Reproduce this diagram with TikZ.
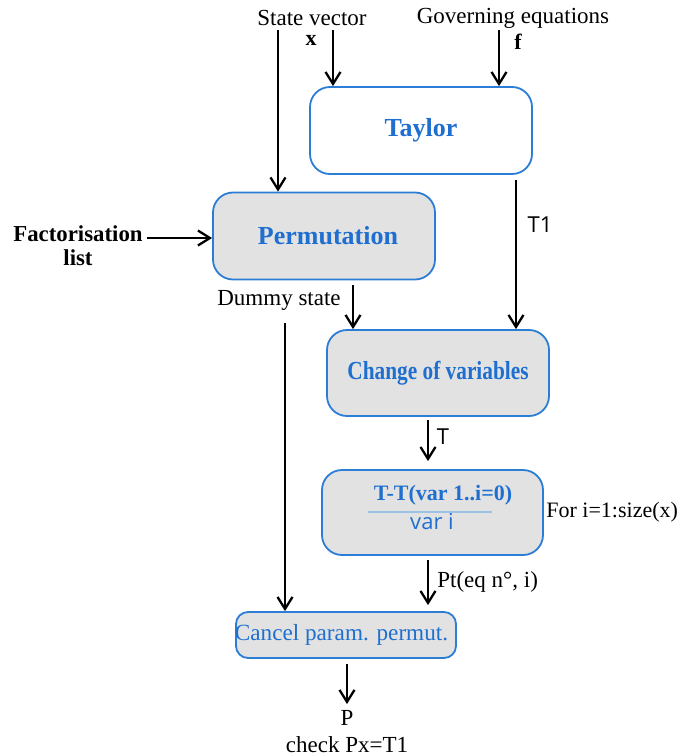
\documentclass[tikz,border=0pt]{standalone}
\usepackage{fontspec}
\setmainfont{Liberation Serif}
\newfontfamily\labelsans{Open Sans}
\usetikzlibrary{arrows.meta}
\definecolor{boxblue}{HTML}{2B7DD6}
\definecolor{txtblue}{HTML}{1E6FD0}
\definecolor{boxgray}{HTML}{E2E2E2}
\definecolor{ruleblue}{HTML}{9CC2E8}

\begin{document}
\begin{tikzpicture}[x=0.5pt,y=-0.5pt,
  arr/.style={line width=1.15pt,-{Straight Barb[length=6pt,width=7.5pt,line width=1.15pt]}},
  blk/.style={draw=boxblue,line width=0.9pt,rounded corners=10pt,align=center,
    text=txtblue,inner sep=0pt,minimum width=111pt,minimum height=43.5pt},
  title/.style={font=\bfseries\fontsize{13}{15}\selectfont},
  lbl/.style={font=\fontsize{11.5}{13}\selectfont,inner sep=0pt},
  sanslbl/.style={font=\labelsans\fontsize{11}{13}\selectfont,inner sep=0pt},
]
\useasboundingbox (0,0) rectangle (680,755);

% processing blocks
\node[blk,fill=white,title] (taylor) at (421,130.5) {Taylor};
\node[blk,fill=boxgray,title] (perm) at (324,236) {\hspace*{4pt}Permutation};
\node[blk,fill=boxgray,minimum height=43pt] (chg) at (438,373)
  {\raisebox{-2pt}{\bfseries\fontsize{13}{15}\selectfont\scalebox{0.82}[1]{Change of variables}}};
\node[blk,fill=boxgray,minimum width=110.5pt,minimum height=42.5pt] (frac) at (432.5,512.5) {};
\node[blk,fill=boxgray,minimum width=110pt,minimum height=23pt,rounded corners=6pt,
  font=\fontsize{11.6}{13}\selectfont] (cancel) at (346,635) {\raisebox{-1pt}{\hspace*{-4.5pt}Cancel param. permut.}};

% fraction inside the loop block
\node[text=txtblue,inner sep=0pt,font=\bfseries\fontsize{11}{13}\selectfont] (num) at (443,495) {T-T(var 1..i=0)};
\node[text=txtblue,sanslbl] (den) at (432,522) {var i};
\coordinate (rl) at (368,512);
\coordinate (rr) at (492,512);
\draw[ruleblue,line width=0.6pt] (rl) -- (rr);

% inputs and labels
\node[lbl] (sv) at (312,18) {State vector};
\node[lbl] (ge) at (513,18) {Governing equations};
\node[lbl,font=\bfseries\fontsize{11}{13}\selectfont] (xv) at (311,40) {x};
\node[lbl,font=\bfseries\fontsize{11}{13}\selectfont] (fv) at (518,42) {f};
\node[lbl,align=center,font=\bfseries\fontsize{11.4}{12}\selectfont] (fact) at (78,246) {Factorisation\\list};
\node[lbl] (dummy) at (279,300) {Dummy state};
\node[sanslbl] (t1) at (540,225) {T1};
\node[sanslbl] (tl) at (443,437) {T};
\node[lbl,anchor=west,font=\fontsize{11}{13}\selectfont] (loop) at (546,512) {For i=1:size(x)};
\node[lbl,anchor=west] (pt) at (437,582) {Pt(eq n°, i)};
\node[lbl] (p) at (347,718) {P};
\node[lbl] (chk) at (347,745) {check Px=T1};

% free ends of the connectors
\coordinate (svx) at (278,30);
\coordinate (xin) at (333,30);
\coordinate (fin) at (499,30);
\coordinate (fe) at (147,238);
\coordinate (t1s) at (516,180);
\coordinate (ds) at (353,285);
\coordinate (dsx) at (285,323);
\coordinate (tt) at (428,420);
\coordinate (pp) at (428,560);
\coordinate (po) at (347,664);

% connectors
\draw[arr] (svx) -- (svx |- perm.north);
\draw[arr] (xin) -- (xin |- taylor.north);
\draw[arr] (fin) -- (fin |- taylor.north);
\draw[arr] (fe) -- (fe -| perm.west);
\draw[arr] (t1s) -- (t1s |- chg.north);
\draw[arr] (ds) -- (ds |- chg.north);
\draw[arr] (dsx) -- (dsx |- cancel.north);
\draw[arr] (tt) -- ([yshift=4pt]tt |- frac.north);
\draw[arr] (pp) -- ([yshift=3pt]pp |- cancel.north);
\draw[arr] (po) -- ([yshift=3pt]p.north);
\end{tikzpicture}
\end{document}
